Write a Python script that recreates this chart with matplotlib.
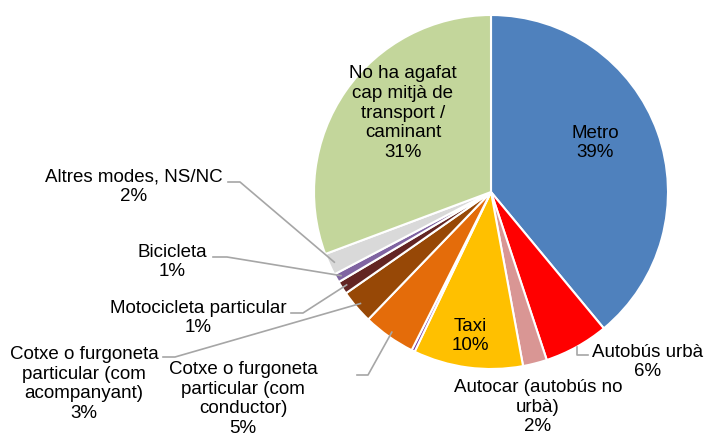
import numpy as np
import matplotlib
matplotlib.use('Agg')
import matplotlib.pyplot as plt

plt.rcParams['font.family'] = ['Liberation Sans', 'DejaVu Sans']

# ---------------- dades ----------------
categories = ['Metro', 'Autobús urbà', 'Autocar (autobús no\nurbà)', 'Taxi', '',
              'Cotxe o furgoneta\nparticular (com\nconductor)',
              'Cotxe o furgoneta\nparticular (com\nacompanyant)',
              'Motocicleta particular', 'Bicicleta', 'Altres modes, NS/NC',
              'No ha agafat\ncap mitjà de\ntransport /\ncaminant']
values = [39.0, 5.9, 2.2, 10.0, 0.3, 4.8, 3.1, 1.2, 0.8, 2.0, 30.7]
colors = ['#4F81BD', '#FF0000', '#D99694', '#FFC000', '#7030A0', '#E46C0A',
          '#974806', '#632523', '#8064A2', '#D9D9D9', '#C3D69B']

# centre del pastís i radi en píxels
CX, CY, R = 491, 192, 177
W, H = 705, 438


def px(x, y):
    return (x - CX) / R, (CY - y) / R


fig = plt.figure(figsize=(W / 100, H / 100), dpi=100)
ax = fig.add_axes([0, 0, 1, 1])
wedges, _ = ax.pie(values, colors=colors, startangle=90, counterclock=False,
                   radius=1, wedgeprops=dict(edgecolor='white', linewidth=1.5))
ax.set_xlim(-CX / R, (W - CX) / R)
ax.set_ylim((CY - H) / R, CY / R)
ax.set_aspect('equal')
ax.axis('off')


def mid(i, r=0.97):
    w = wedges[i]
    a = np.deg2rad((w.theta1 + w.theta2) / 2)
    return r * np.cos(a), r * np.sin(a)


# posicions de les etiquetes (píxels) i línies guia
label_pos = {
    0: (595, 143, None),
    1: (648, 362, [(588, 355), (577, 355), (577, 347)]),
    2: (538, 407, None),
    3: (470, 336, None),
    5: (243, 399, [(357, 375), (368, 375), None]),
    6: (84, 384, [(163, 357), (175, 357), None]),
    7: (198, 318, [(291, 313), (303, 313), None]),
    8: (172, 262, [(213, 257), (227, 257), None]),
    9: (134, 187, [(228, 182), (240, 182), None]),
    10: (403, 113, None),
}

for i, (tx, ty, guide) in label_pos.items():
    txt = categories[i] + '\n' + f'{round(values[i])}%'
    x, y = px(tx, ty)
    ax.text(x, y, txt, ha='center', va='center', fontsize=13.5,
            color='black', linespacing=1.2)
    if guide:
        p1 = px(*guide[0])
        p2 = px(*guide[1])
        p3 = px(*guide[2]) if guide[2] else mid(i)
        ax.plot([p1[0], p2[0], p3[0]], [p1[1], p2[1], p3[1]],
                color='#A6A6A6', linewidth=1.2)

fig.savefig('out.png', dpi=100)
